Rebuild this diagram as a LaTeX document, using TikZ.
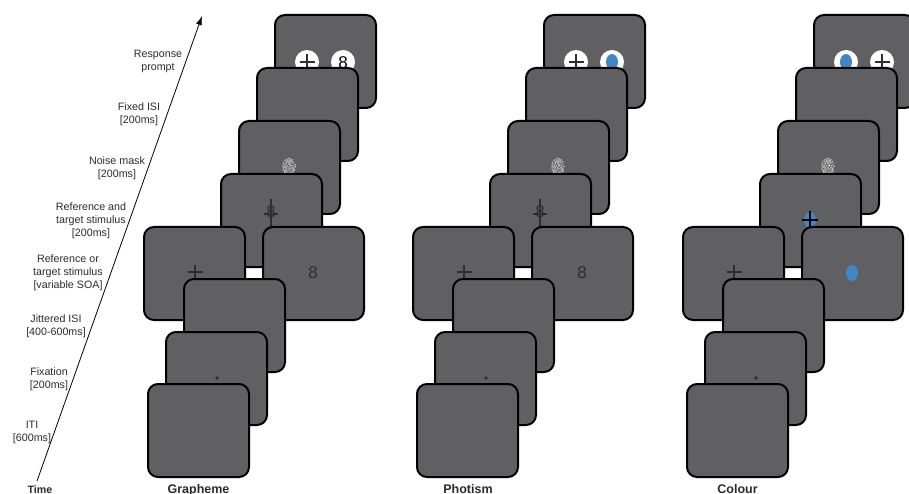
\documentclass[tikz,border=0pt]{standalone}
\usepackage{fontspec}
\setmainfont{Liberation Sans}
\usetikzlibrary{arrows.meta}
\definecolor{scr}{HTML}{606062}
\definecolor{bluestim}{HTML}{3F87C9}
\definecolor{lbl}{HTML}{2B2B2B}
\definecolor{glyph}{HTML}{2E2E2E}
\tikzset{
  screen/.style={draw=black, line width=2pt, fill=scr, rounded corners=10pt,
    minimum width=101pt, minimum height=93pt, inner sep=0pt},
  lab/.style={align=center, text=lbl, font=\fontsize{10.7}{13}\selectfont, inner sep=0pt},
  colname/.style={text=lbl, font=\fontsize{12.5}{14}\selectfont\bfseries, inner sep=0pt, anchor=base},
  digit/.style={text=glyph, font=\fontsize{17}{17}\selectfont, inner sep=0pt},
  stimline/.style={draw=glyph, line width=1.1pt},
  pics/plusmark/.style={code={\draw[stimline] (-7.5,0) -- (7.5,0) (0,-7.5) -- (0,7.5);}},
  pics/bluedot/.style={code={\fill[bluestim] (0,0) ellipse [x radius=6, y radius=8];}},
  pics/whitedisc/.style={code={\fill[white] (0,0) circle [radius=12];}},
}
\newcommand\trialcol[5]{%
\begin{scope}[xshift=#1pt]
  \node[screen] (#2resp) at (325.5,61.5) {};
  #3
  \node[screen] (#2fix) at (307.5,114.5) {};
  \node[screen] (#2noise) at (289.5,167.5) {};
  \begin{scope}
    \clip (289,166.5) ellipse [x radius=6.8, y radius=8.8];
    \fill[gray!75] (289,166.5) ellipse [x radius=6.8, y radius=8.8];
    \pgfmathsetseed{11}
    \foreach \i in {1,...,220}{%
      \pgfmathsetmacro\rx{289+7*rand}%
      \pgfmathsetmacro\ry{166.5+9*rand}%
      \pgfmathtruncatemacro\gv{30+50*rnd}%
      \fill[white!\gv!black] (\rx,\ry) rectangle ++(1,1);}
  \end{scope}
  \node[screen] (#2rt) at (271.5,220.5) {};
  #4
  \node[screen] (#2left) at (194.5,273.5) {};
  \pic at (195,272) {plusmark};
  \node[screen] (#2right) at (313.5,273.5) {};
  #5
  \node[screen] (#2jit) at (234.5,325.5) {};
  \node[screen] (#2fixn) at (216.5,378.5) {};
  \fill[glyph] (217,378) circle [radius=1.8];
  \node[screen] (#2iti) at (198.5,430.5) {};
\end{scope}}
\begin{document}
\begin{tikzpicture}[x=1pt,y=-1pt]
\useasboundingbox (0,0) rectangle (909,494);
% time axis
\coordinate (t0) at (37,481);
\coordinate (t1) at (202,16);
\draw[-{Latex[length=9pt,width=6pt]}, line width=0.8pt] (t0) -- (t1);
\node[lab] (l1) at (158,61) {Response\\prompt};
\node[lab] (l2) at (139,114.5) {Fixed ISI\\{}[200ms]};
\node[lab] (l3) at (117,168.5) {Noise mask\\{}[200ms]};
\node[lab] (l4) at (91,220.5) {Reference and\\target stimulus\\{}[200ms]};
\node[lab] (l5) at (68,272.5) {Reference or\\target stimulus\\{}[variable SOA]};
\node[lab] (l6) at (56,326) {Jittered ISI\\{}[400-600ms]};
\node[lab] (l7) at (49,379) {Fixation\\{}[200ms]};
\node[lab] (l8) at (32,432.5) {ITI\\{}[600ms]};
\node[text=lbl, font=\fontsize{10.7}{12}\selectfont\bfseries, inner sep=0pt, anchor=base] (tlab) at (40,493) {Time};
% Grapheme
\trialcol{0}{g}{%
  \pic at (307,62) {whitedisc}; \pic at (307,62) {plusmark};
  \pic at (343,62) {whitedisc}; \node[digit, text=black] (gr8) at (343,63) {8};}{%
  \node[digit] (grt8) at (271,212) {8}; \draw[stimline] (264,214) -- (278,214) (271,199) -- (271,227);}{%
  \node[digit] (gright8) at (313,273) {8};}
% Photism
\trialcol{269}{p}{%
  \pic at (307,62) {whitedisc}; \pic at (307,62) {plusmark};
  \pic at (343,62) {whitedisc}; \pic at (343,62) {bluedot};}{%
  \node[digit] (prt8) at (271,212) {8}; \draw[stimline] (264,214) -- (278,214) (271,199) -- (271,227);}{%
  \node[digit] (pright8) at (313,273) {8};}
% Colour
\trialcol{539}{c}{%
  \pic at (307,62) {whitedisc}; \pic at (307,62) {bluedot};
  \pic at (343,62) {whitedisc}; \pic at (343,62) {plusmark};}{%
  \pic at (271,220) {bluedot}; \draw[stimline, draw=black] (263,220) -- (279,220) (271,211) -- (271,229);}{%
  \pic at (313,273) {bluedot};}
\node[colname] (gname) at (198.5,493) {Grapheme};
\node[colname] (pname) at (468,493) {Photism};
\node[colname] (cname) at (737.5,493) {Colour};
\end{tikzpicture}
\end{document}
